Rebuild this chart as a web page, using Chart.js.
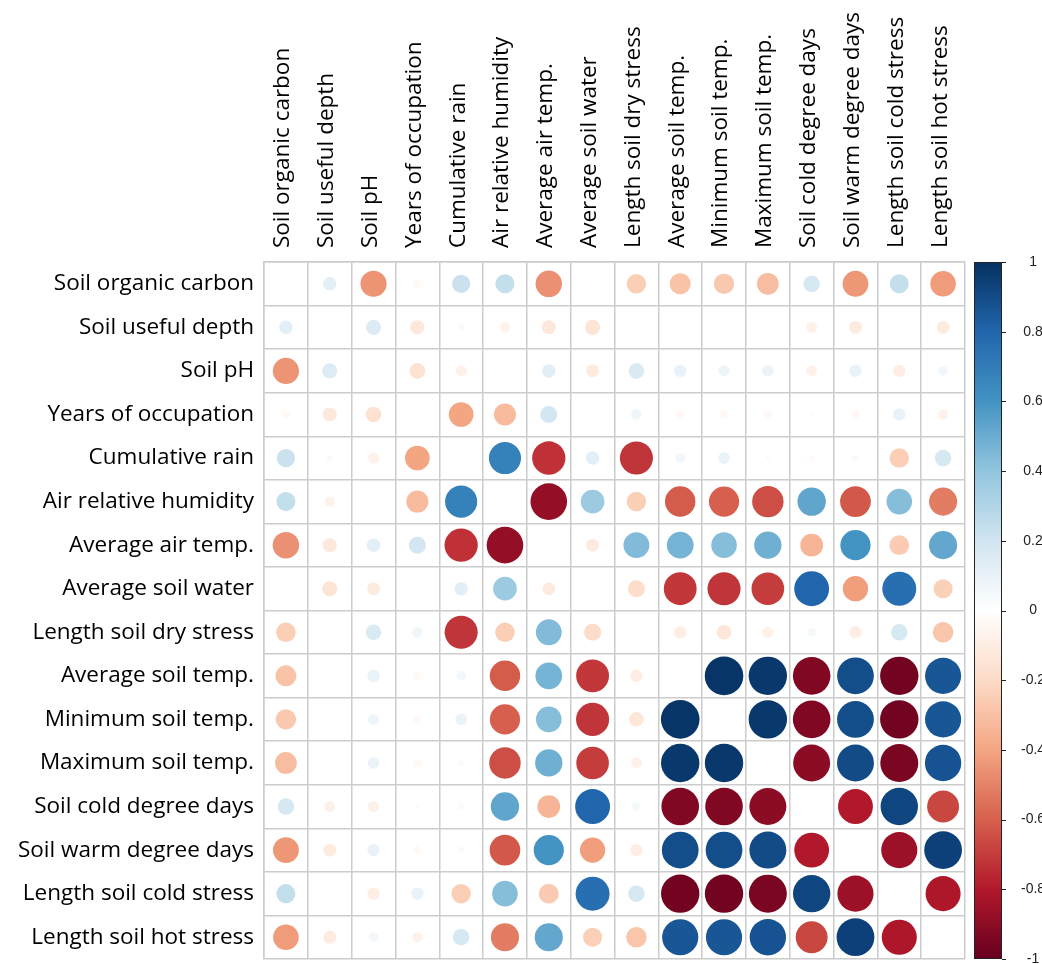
<!DOCTYPE html>
<html>
<head>
<meta charset="utf-8">
<title>Correlation matrix</title>
<script src="https://cdn.jsdelivr.net/npm/chart.js@4.4.1/dist/chart.umd.min.js"></script>
<style>
  html, body { margin: 0; padding: 0; background: #fff; }
  #wrap { width: 1042px; height: 964px; }
  canvas { display: block; }
</style>
</head>
<body>
<div id="wrap"><canvas id="corr" width="1042" height="964"></canvas></div>
<script>
// variable names, same order for rows and columns
var varNames = [
  "Soil organic carbon", "Soil useful depth", "Soil pH", "Years of occupation",
  "Cumulative rain", "Air relative humidity", "Average air temp.", "Average soil water",
  "Length soil dry stress", "Average soil temp.", "Minimum soil temp.", "Maximum soil temp.",
  "Soil cold degree days", "Soil warm degree days", "Length soil cold stress", "Length soil hot stress"
];

// correlation rows (null = diagonal, left blank)
var rowOrganicCarbon = [null, 0.12, -0.45, -0.04, 0.22, 0.24, -0.46, 0.01, -0.25, -0.29, -0.27, -0.31, 0.18, -0.44, 0.24, -0.43];
var rowUsefulDepth   = [0.12, null, 0.15, -0.13, 0.03, -0.07, -0.13, -0.15, -0.01, -0.01, 0.01, -0.01, -0.08, -0.11, 0.01, -0.11];
var rowSoilPH        = [-0.45, 0.15, null, -0.16, -0.08, -0.01, 0.12, -0.11, 0.16, 0.10, 0.08, 0.09, -0.08, 0.10, -0.10, 0.06];
var rowYearsOcc      = [-0.04, -0.13, -0.16, null, -0.40, -0.32, 0.19, -0.01, 0.07, -0.04, -0.04, -0.04, 0.02, -0.04, 0.10, -0.07];
var rowCumRain       = [0.22, 0.03, -0.08, -0.40, null, 0.68, -0.73, 0.12, -0.72, 0.06, 0.09, 0.02, -0.03, 0.03, -0.25, 0.18];
var rowAirHumidity   = [0.24, -0.07, -0.01, -0.32, 0.68, null, -0.88, 0.37, -0.25, -0.61, -0.60, -0.65, 0.53, -0.62, 0.43, -0.52];
var rowAirTemp       = [-0.46, -0.13, 0.12, 0.19, -0.73, -0.88, null, -0.11, 0.44, 0.47, 0.43, 0.49, -0.34, 0.60, -0.26, 0.52];
var rowSoilWater     = [0.01, -0.15, -0.11, -0.01, 0.12, 0.37, -0.11, null, -0.19, -0.71, -0.72, -0.70, 0.80, -0.42, 0.76, -0.24];
var rowDryStress     = [-0.25, -0.01, 0.16, 0.07, -0.72, -0.25, 0.44, -0.19, null, -0.10, -0.14, -0.08, 0.05, -0.10, 0.18, -0.28];
var rowAvgSoilTemp   = [-0.29, -0.01, 0.10, -0.04, 0.06, -0.61, 0.47, -0.71, -0.10, null, 0.98, 0.97, -0.93, 0.89, -0.97, 0.86];
var rowMinSoilTemp   = [-0.27, 0.01, 0.08, -0.04, 0.09, -0.60, 0.43, -0.72, -0.14, 0.98, null, 0.97, -0.93, 0.89, -0.97, 0.86];
var rowMaxSoilTemp   = [-0.31, -0.01, 0.09, -0.04, 0.02, -0.65, 0.49, -0.70, -0.08, 0.97, 0.97, null, -0.90, 0.90, -0.95, 0.87];
var rowColdDegDays   = [0.18, -0.08, -0.08, 0.02, -0.03, 0.53, -0.34, 0.80, 0.05, -0.93, -0.93, -0.90, null, -0.80, 0.92, -0.67];
var rowWarmDegDays   = [-0.44, -0.11, 0.10, -0.04, 0.03, -0.62, 0.60, -0.42, -0.10, 0.89, 0.89, 0.90, -0.80, null, -0.86, 0.94];
var rowColdStress    = [0.24, 0.01, -0.10, 0.10, -0.25, 0.43, -0.26, 0.76, 0.18, -0.97, -0.97, -0.95, 0.92, -0.86, null, -0.81];
var rowHotStress     = [-0.43, -0.11, 0.06, -0.07, 0.18, -0.52, 0.52, -0.24, -0.28, 0.86, 0.86, 0.87, -0.67, 0.94, -0.81, null];

// colour bar tick labels
var colorbarTicks = [-1, -0.8, -0.6, -0.4, -0.2, 0, 0.2, 0.4, 0.6, 0.8, 1];

var corrRows = [rowOrganicCarbon, rowUsefulDepth, rowSoilPH, rowYearsOcc, rowCumRain, rowAirHumidity,
  rowAirTemp, rowSoilWater, rowDryStress, rowAvgSoilTemp, rowMinSoilTemp, rowMaxSoilTemp,
  rowColdDegDays, rowWarmDegDays, rowColdStress, rowHotStress];

// RdBu ramp, from -1 to 1
var rdbu = ["#67001F", "#B2182B", "#D6604D", "#F4A582", "#FDDBC7", "#FFFFFF",
            "#D1E5F0", "#92C5DE", "#4393C3", "#2166AC", "#053061"];

function hexToRgb(h) {
  return [parseInt(h.substr(1, 2), 16), parseInt(h.substr(3, 2), 16), parseInt(h.substr(5, 2), 16)];
}

function corrColor(v) {
  var t = (v + 1) / 2 * (rdbu.length - 1);
  var k = Math.min(Math.floor(t), rdbu.length - 2);
  var f = t - k;
  var a = hexToRgb(rdbu[k]), b = hexToRgb(rdbu[k + 1]);
  var c = a.map(function(x, i) { return Math.round(x + (b[i] - x) * f); });
  return "rgb(" + c.join(",") + ")";
}

var points = [];
corrRows.forEach(function(row, i) {
  row.forEach(function(v, j) {
    if (v === null) return;
    points.push({ x: varNames[j], y: varNames[i], v: v });
  });
});

// circle area ~ |r|, full circle nearly fills the cell
function circleRadius(c) {
  if (!c.raw) return 0;
  var xs = c.chart.scales && c.chart.scales.x;
  var cell = xs && xs.width ? xs.width / varNames.length : 44;
  return Math.sqrt(Math.abs(c.raw.v)) * cell * 0.445;
}

// fixed axis box sizes, no extra edge padding from tick labels
function fixBox(w, h) {
  return function(s) {
    if (w !== null) s.width = w;
    if (h !== null) s.height = h;
    s.paddingTop = 0; s.paddingBottom = 0; s.paddingLeft = 0; s.paddingRight = 0;
  };
}

var labelFont = { family: "'Open Sans', sans-serif", size: 22.5 };
var gridColor = "#cccccc";

var colorbarPlugin = {
  id: "colorbar",
  afterDraw: function(chart) {
    var s = chart.scales.cbar;
    var ctx = chart.ctx;
    var top = s.getPixelForValue(1), bottom = s.getPixelForValue(-1);
    var x0 = chart.scales.x.right + 9, w = 28;
    var g = ctx.createLinearGradient(0, bottom, 0, top);
    rdbu.forEach(function(c, k) { g.addColorStop(k / (rdbu.length - 1), c); });
    ctx.save();
    ctx.fillStyle = g;
    ctx.fillRect(x0, top, w, bottom - top);
    ctx.strokeStyle = "#222";
    ctx.lineWidth = 1;
    ctx.strokeRect(x0 + 0.5, top + 0.5, w - 1, bottom - top - 1);
    colorbarTicks.forEach(function(v) {
      var y = Math.round(s.getPixelForValue(v)) + 0.5;
      ctx.beginPath();
      ctx.moveTo(x0 + w, y);
      ctx.lineTo(x0 + w + 4, y);
      ctx.stroke();
    });
    ctx.restore();
  }
};

new Chart(document.getElementById("corr"), {
  type: "scatter",
  data: {
    datasets: [{
      data: points,
      pointStyle: "circle",
      borderWidth: 0,
      backgroundColor: function(c) { return c.raw ? corrColor(c.raw.v) : "#fff"; },
      pointRadius: circleRadius,
      pointHoverRadius: circleRadius
    }]
  },
  options: {
    responsive: false,
    devicePixelRatio: 1,
    animation: false,
    events: [],
    layout: { autoPadding: false, padding: { left: 0, right: 0, top: 0, bottom: 5 } },
    plugins: { legend: { display: false }, tooltip: { enabled: false } },
    scales: {
      x: {
        type: "category",
        labels: varNames,
        position: "top",
        offset: true,
        grid: { offset: true, color: gridColor, lineWidth: 1.5, drawTicks: false },
        border: { color: gridColor, width: 1.5 },
        ticks: { autoSkip: false, minRotation: 90, maxRotation: 90, padding: 14, labelOffset: 24, color: "#000", font: labelFont },
        afterFit: fixBox(null, 262)
      },
      y: {
        type: "category",
        labels: varNames,
        offset: true,
        grid: { offset: true, color: gridColor, lineWidth: 1.5, drawTicks: false },
        border: { color: gridColor, width: 1.5 },
        ticks: { autoSkip: false, padding: 10, color: "#000", font: labelFont },
        afterFit: fixBox(264, null)
      },
      cbar: {
        type: "linear",
        position: "right",
        min: -1,
        max: 1,
        grid: { display: false, drawTicks: false },
        border: { display: false },
        afterBuildTicks: function(s) { s.ticks = colorbarTicks.map(function(v) { return { value: v }; }); },
        ticks: {
          crossAlign: "center",
          padding: 56,
          color: "#222",
          font: { family: "'Liberation Sans', Arial, sans-serif", size: 14 },
          callback: function(v) { return String(v); }
        },
        afterFit: fixBox(77, null)
      }
    }
  },
  plugins: [colorbarPlugin]
});
</script>
</body>
</html>
